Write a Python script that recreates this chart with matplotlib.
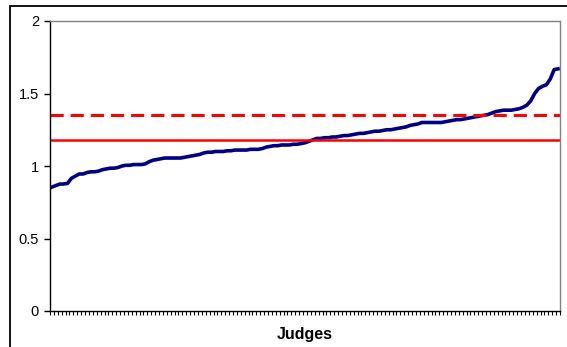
import numpy as np
import matplotlib.pyplot as plt
from matplotlib.patches import Rectangle

plt.rcParams['font.family'] = ['Liberation Sans', 'DejaVu Sans']

# sorted judge scores
scores = [
    0.855, 0.865, 0.875, 0.876, 0.88,
    0.915, 0.93, 0.945, 0.945, 0.955,
    0.96, 0.96, 0.965, 0.975, 0.98,
    0.985, 0.985, 0.99, 1.0, 1.005,
    1.005, 1.01, 1.01, 1.01, 1.015,
    1.03, 1.04, 1.045, 1.05, 1.055,
    1.055, 1.055, 1.055, 1.055, 1.06,
    1.065, 1.07, 1.075, 1.08, 1.09,
    1.095, 1.095, 1.10, 1.10, 1.10,
    1.105, 1.105, 1.11, 1.11, 1.11,
    1.11, 1.115, 1.115, 1.115, 1.12,
    1.13, 1.135, 1.14, 1.14, 1.145,
    1.145, 1.145, 1.15, 1.15, 1.155,
    1.16, 1.17, 1.18, 1.19, 1.19,
    1.195, 1.195, 1.20, 1.20, 1.205,
    1.21, 1.21, 1.215, 1.22, 1.225,
    1.225, 1.23, 1.235, 1.24, 1.24,
    1.245, 1.25, 1.25, 1.255, 1.26,
    1.265, 1.27, 1.28, 1.285, 1.29,
    1.30, 1.30, 1.30, 1.30, 1.30,
    1.30, 1.305, 1.31, 1.315, 1.32,
    1.32, 1.325, 1.33, 1.335, 1.34,
    1.345, 1.35, 1.355, 1.365, 1.375,
    1.38, 1.385, 1.385, 1.385, 1.39,
    1.395, 1.405, 1.42, 1.45, 1.50,
    1.535, 1.55, 1.56, 1.60, 1.665,
    1.67,
]
mean_line = 1.18
upper_line = 1.35
yticks = [0, 0.5, 1, 1.5, 2]
ytick_labels = ['0', '0.5', '1', '1.5', '2']

n = len(scores)
x = np.arange(n)

fig = plt.figure(figsize=(5.67, 3.47), dpi=100)
ax = fig.add_axes([50 / 567, 36 / 347, 510 / 567, 290 / 347])

ax.plot(x, scores, color='#000080', lw=2.6, solid_joinstyle='round')
ax.axhline(mean_line, color='#FF0000', lw=1.8)
ax.axhline(upper_line, color='#FF0000', lw=2.2, dashes=(9.5 / 2.2, 5 / 2.2))

ax.set_xlim(-0.5, n - 0.5)
ax.set_ylim(0, 2)
ax.set_yticks(yticks)
ax.set_yticklabels(ytick_labels, fontsize=10.5)
ax.set_xticks(np.arange(n + 1) - 0.5)
ax.set_xticklabels([])
ax.tick_params(axis='y', direction='out', length=4, width=1, pad=4)
ax.tick_params(axis='x', direction='out', length=3, width=0.8)

for s in ['left', 'bottom']:
    ax.spines[s].set_color('black')
    ax.spines[s].set_linewidth(1.0)
for s in ['top', 'right']:
    ax.spines[s].set_color('#808080')
    ax.spines[s].set_linewidth(1.0)

ax.set_xlabel('Judges', fontsize=11.5, fontweight='bold', labelpad=5)

# outer chart frame (only top and left edges fall inside the image)
fig.patches.append(Rectangle((10 / 567, -0.1), 1.2, 1 - 6 / 347 + 0.1,
                             transform=fig.transFigure, fill=False,
                             lw=1.3, edgecolor='black'))

fig.savefig('out.png', dpi=100)
